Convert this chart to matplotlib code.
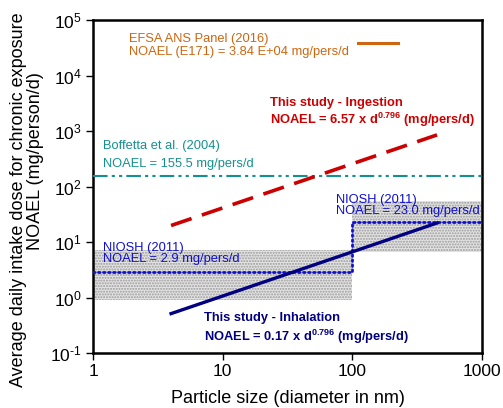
import matplotlib
matplotlib.use("Agg")
import matplotlib.pyplot as plt
import numpy as np

plt.rcParams['font.family'] = ['Liberation Sans', 'DejaVu Sans']
plt.rcParams['mathtext.fontset'] = 'custom'
plt.rcParams['mathtext.rm'] = 'Liberation Sans'
plt.rcParams['mathtext.it'] = 'Liberation Sans:italic'
plt.rcParams['mathtext.bf'] = 'Liberation Sans:bold'

# Data
d_study = np.array([4, 450])                 # particle size range (nm)
ing_coef, inh_coef, expo = 6.57, 0.17, 0.796
boffetta_noael = 155.5
efsa_noael = 3.84e4
efsa_x = [110, 225]
niosh_x = [1, 100, 100, 1000]
niosh_y = [2.9, 2.9, 23.0, 23.0]
niosh_band_low = {'x': [1, 100], 'y': [0.9, 7.2]}
niosh_band_high = {'x': [100, 1000], 'y': [6.5, 54]}

ing = ing_coef * d_study ** expo
inh = inh_coef * d_study ** expo

W, H = 503, 408
fig = plt.figure(figsize=(W / 100, H / 100), dpi=100)
ax = fig.add_axes([93 / W, 1 - 353 / H, (482 - 93) / W, (353 - 20) / H])
ax.set_xscale('log'); ax.set_yscale('log')
ax.set_xlim(1, 1000); ax.set_ylim(0.1, 1e5)

# shaded bands
for band in (niosh_band_low, niosh_band_high):
    ax.fill_between(band['x'], band['y'][0], band['y'][1], facecolor='#e4e4e4',
                    edgecolor='#9a9a9a', hatch='......', linewidth=0, zorder=1)

c_orange = '#CC6611'
c_red = '#CC0000'
c_teal = '#159090'
c_navy = '#000080'
c_blue = '#1010CC'

ax.plot(efsa_x, [efsa_noael, efsa_noael], color=c_orange, lw=2.2, zorder=3)
ax.axhline(boffetta_noael, color=c_teal, lw=1.5, dashes=(7, 2, 1.5, 2, 1.5, 2), zorder=3)
ax.plot(d_study, ing, color=c_red, lw=2.6, dashes=(6, 3), zorder=4)
ax.plot(niosh_x, niosh_y, color=c_blue, lw=2, linestyle=(0, (0.6, 1.2)),
        dash_capstyle='round', zorder=3)
ax.plot(d_study, inh, color=c_navy, lw=2.4, zorder=4)

fs = 9.3
fsb = 9.3
ax.text(1.89, 4.6e4, 'EFSA ANS Panel (2016)', color=c_orange, fontsize=fs, va='center')
ax.text(1.89, 2.67e4, 'NOAEL (E171) = 3.84 E+04 mg/pers/d', color=c_orange, fontsize=fs, va='center')
ax.text(23.3, 3.2e3, 'This study - Ingestion', color=c_red, fontsize=fsb, fontweight='bold', va='center')
ax.text(23.3, 1.59e3, r'NOAEL = 6.57 x d$^{\mathbf{0.796}}$ (mg/pers/d)', color=c_red, fontsize=fsb,
        fontweight='bold', va='center')
ax.text(1.19, 540, 'Boffetta et al. (2004)', color=c_teal, fontsize=fs, va='center')
ax.text(1.19, 256, 'NOAEL = 155.5 mg/pers/d', color=c_teal, fontsize=fs, va='center')
ax.text(75.3, 57.6, 'NIOSH (2011)', color=c_blue, fontsize=fs, va='center')
ax.text(75.3, 36.6, 'NOAEL = 23.0 mg/pers/d', color=c_blue, fontsize=fs, va='center')
ax.text(1.19, 7.86, 'NIOSH (2011)', color=c_blue, fontsize=fs, va='center')
ax.text(1.19, 5.03, 'NOAEL = 2.9 mg/pers/d', color=c_blue, fontsize=fs, va='center')
ax.text(7.14, 0.43, 'This study - Inhalation', color=c_navy, fontsize=fsb, fontweight='bold', va='center')
ax.text(7.14, 0.196, r'NOAEL = 0.17 x d$^{\mathbf{0.796}}$ (mg/pers/d)', color=c_navy, fontsize=fsb,
        fontweight='bold', va='center')

for s in ax.spines.values():
    s.set_linewidth(1.8)
ax.tick_params(which='major', direction='out', length=5, width=1, labelsize=12.5, pad=3)
ax.tick_params(which='minor', length=0)
ax.set_xticks([1, 10, 100, 1000])
ax.set_xticklabels(['1', '10', '100', '1000'])
ax.set_yticks([1e-1, 1, 10, 1e2, 1e3, 1e4, 1e5])
ax.set_yticklabels([r'10$^{\text{-}1}$', r'10$^{0}$', r'10$^{1}$', r'10$^{2}$', r'10$^{3}$', r'10$^{4}$', r'10$^{5}$'])
ax.set_xlabel('Particle size (diameter in nm)', fontsize=13, labelpad=8)

fig.text(19 / W, 1 - 200 / H, 'Average daily intake dose for chronic exposure', fontsize=13,
         rotation=90, ha='center', va='center')
fig.text(36 / W, 1 - 161 / H, 'NOAEL (mg/person/d)', fontsize=13,
         rotation=90, ha='center', va='center')

fig.savefig('out.png', dpi=100)
